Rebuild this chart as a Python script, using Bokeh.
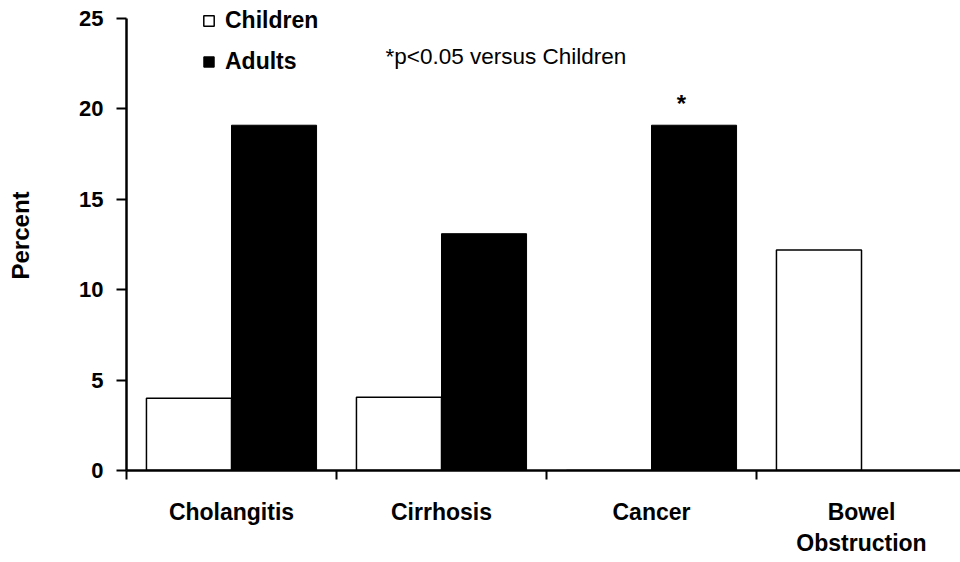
from bokeh.plotting import figure
from bokeh.models import (Range1d, FixedTicker, Legend, LegendItem, Label,
                          ColumnDataSource)
from bokeh.embed import file_html
from bokeh.resources import INLINE

# ---- data ----
categories = ["Cholangitis", "Cirrhosis", "Cancer", "Bowel\nObstruction"]
children = [4.0, 4.05, 0.0, 12.2]
adults = [19.1, 13.1, 19.1, 0.0]
y_ticks = [0, 5, 10, 15, 20, 25]
note_text = "*p<0.05 versus Children"
sig_mark = "*"

FONT = "Liberation Sans"
BAR_W = 0.405

centers = [i + 0.5 for i in range(len(categories))]
src = ColumnDataSource(dict(
    xc=[c - BAR_W / 2 for c in centers],
    xa=[c + BAR_W / 2 for c in centers],
    children=children,
    adults=adults,
))

p = figure(width=960, height=562, output_backend="svg", toolbar_location=None,
           x_range=Range1d(0, 834 / 210), y_range=Range1d(0, 26),
           min_border_left=126, min_border_right=0, min_border_top=0,
           min_border_bottom=92)
p.outline_line_color = None
p.grid.visible = False
p.background_fill_color = "white"
p.border_fill_color = "white"

r_ch = p.vbar(x="xc", top="children", bottom=0, width=BAR_W, source=src,
              fill_color="white", line_color="black", line_width=1.5)
r_ad = p.vbar(x="xa", top="adults", bottom=0, width=BAR_W, source=src,
              fill_color="black", line_color="black", line_width=1)

# x axis: labels at centers (major), ticks at boundaries (minor)
xa = p.xaxis[0]
xa.ticker = FixedTicker(ticks=centers,
                        minor_ticks=list(range(len(categories) + 1)))
xa.major_label_overrides = {c: lab for c, lab in zip(centers, categories)}
xa.major_tick_out = 0
xa.major_tick_in = 0
xa.minor_tick_out = 9
xa.minor_tick_in = 0
xa.minor_tick_line_width = 2
xa.minor_tick_line_color = "black"
xa.axis_line_width = 2.5
xa.axis_line_color = "black"
xa.major_label_text_font = FONT
xa.major_label_text_font_style = "bold"
xa.major_label_text_font_size = "23px"
xa.major_label_text_color = "black"
xa.major_label_standoff = 19
xa.major_label_text_line_height = 1.22

# y axis
ya = p.yaxis[0]
ya.ticker = FixedTicker(ticks=y_ticks, minor_ticks=[])
ya.bounds = (0, 25)
ya.major_tick_out = 10
ya.major_tick_in = 0
ya.major_tick_line_width = 2
ya.major_tick_line_color = "black"
ya.axis_line_width = 2.5
ya.axis_line_color = "black"
ya.major_label_text_font = FONT
ya.major_label_text_font_style = "bold"
ya.major_label_text_font_size = "22px"
ya.major_label_text_color = "black"
ya.major_label_standoff = 13
ya.axis_label = "Percent"
ya.axis_label_text_font = FONT
ya.axis_label_text_font_style = "bold"
ya.axis_label_text_font_size = "24px"
ya.axis_label_text_color = "black"
ya.axis_label_standoff = 42

# legend
legend = Legend(items=[LegendItem(label="Children", renderers=[r_ch]),
                       LegendItem(label="Adults", renderers=[r_ad])],
                location=(76, 395), orientation="vertical",
                padding=0, margin=0, spacing=14,
                glyph_width=13, glyph_height=13, label_height=23,
                label_standoff=10,
                label_text_font=FONT, label_text_font_style="bold",
                label_text_font_size="23px", label_text_color="black",
                border_line_color=None, background_fill_alpha=0)
p.add_layout(legend, "center")

p.add_layout(Label(x=(385 - 126) / 210, y=(470 - 56) / 18.08, text=note_text,
                   text_font=FONT, text_font_size="22.5px", text_color="black",
                   text_baseline="middle", text_align="left"))
p.add_layout(Label(x=centers[2] + BAR_W / 2 - 0.06, y=adults[2] + 1.2,
                   text=sig_mark, text_font=FONT, text_font_style="bold",
                   text_font_size="24px", text_color="black",
                   text_baseline="middle", text_align="center"))

open("out.html", "w").write(file_html(p, INLINE))
